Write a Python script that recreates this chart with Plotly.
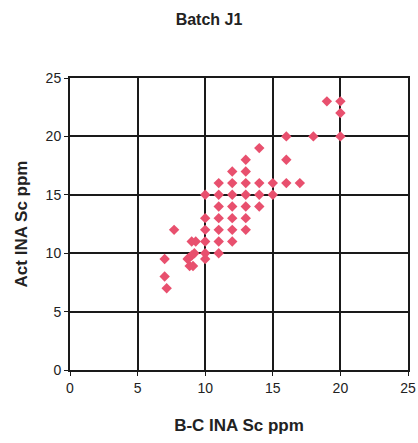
import plotly.graph_objects as go

# B-C INA Sc (x) versus Act INA Sc (y), ppm
bc_sc = [
    19, 20, 20, 20, 18, 16,
    14, 13, 16, 12, 13,
    11, 12, 13, 14, 15, 16, 17,
    10, 11, 12, 13, 14, 15,
    11, 12, 13, 14,
    10, 11, 12, 13,
    7.7, 10, 11, 12, 13,
    9.0, 9.3, 10, 11, 12,
    11, 10, 10, 9.2, 9.0, 8.8, 8.7, 8.85, 9.1,
    7.0, 7.0, 7.15,
]
act_sc = [
    23, 23, 22, 20, 20, 20,
    19, 18, 18, 17, 17,
    16, 16, 16, 16, 16, 16, 16,
    15, 15, 15, 15, 15, 15,
    14, 14, 14, 14,
    13, 13, 13, 13,
    12, 12, 12, 12, 12,
    11, 11, 11, 11, 11,
    10, 10, 9.5, 10, 9.8, 9.6, 9.5, 8.9, 8.9,
    9.5, 8.0, 7.0,
]

tick_vals = [0, 5, 10, 15, 20, 25]

fig = go.Figure(
    go.Scatter(
        x=bc_sc,
        y=act_sc,
        mode="markers",
        marker=dict(symbol="diamond", size=8, color="#e8506e", line=dict(width=0)),
        showlegend=False,
        cliponaxis=False,
    )
)

axis_common = dict(
    range=[0, 25],
    tickvals=tick_vals,
    showgrid=True,
    gridcolor="#1a1a1a",
    gridwidth=1.6,
    zeroline=False,
    showline=True,
    linecolor="#1a1a1a",
    linewidth=2,
    mirror=True,
    ticks="outside",
    ticklen=4,
    tickcolor="#1a1a1a",
    tickfont=dict(family="Liberation Sans, Arial", size=14, color="#222"),
    fixedrange=True,
    automargin=False,
)

fig.update_xaxes(
    **axis_common,
    title=dict(
        text="<b>B-C INA Sc ppm</b>",
        font=dict(family="Liberation Sans, Arial", size=17, color="#222"),
        standoff=24,
    ),
)
fig.update_yaxes(
    **axis_common,
    title=dict(
        text="<b>Act INA Sc ppm</b>",
        font=dict(family="Liberation Sans, Arial", size=17, color="#222"),
        standoff=14,
    ),
)

fig.update_layout(
    width=418,
    height=443,
    margin=dict(l=70, r=10, t=78, b=73),
    paper_bgcolor="white",
    plot_bgcolor="white",
    title=dict(
        text="<b>Batch J1</b>",
        x=0.5,
        xanchor="center",
        y=1 - 19 / 443,
        yanchor="middle",
        font=dict(family="Liberation Sans, Arial", size=16, color="#222"),
    ),
)

fig.write_html("out.html")
